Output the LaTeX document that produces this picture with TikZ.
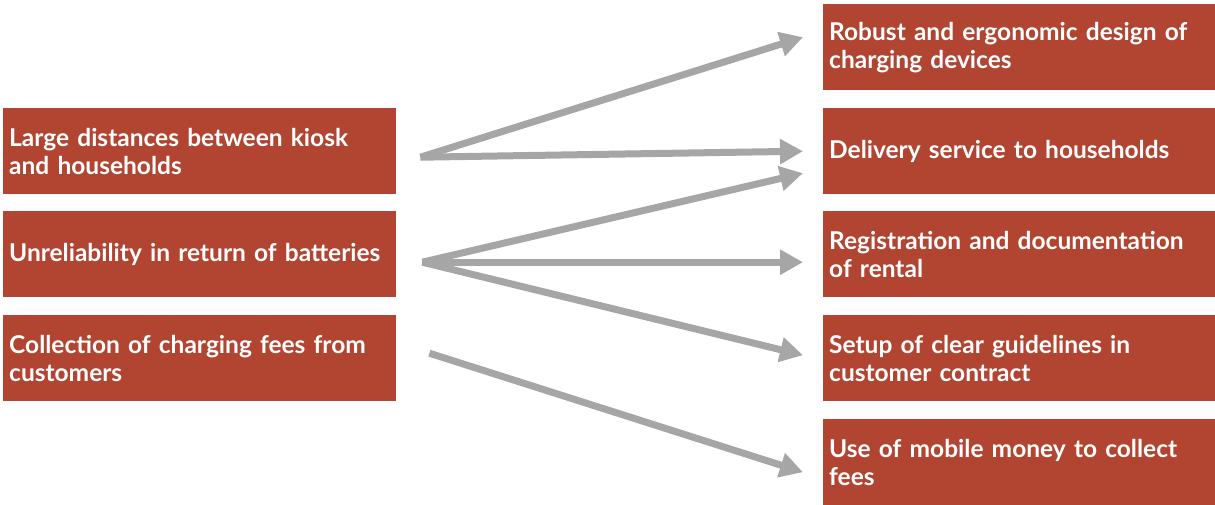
\documentclass[tikz,border=0pt]{standalone}
\usepackage{fontspec}
\setmainfont{Lato}
\usetikzlibrary{arrows.meta,calc}
\definecolor{boxred}{RGB}{177,69,50}
\definecolor{arrgray}{RGB}{166,166,166}
\begin{document}
\begin{tikzpicture}[x=1pt,y=-1pt,
  card/.style={fill=boxred,text=white,font=\bfseries\fontsize{24.5}{28}\selectfont,
    minimum width=393pt,minimum height=86pt,text width=381pt,align=left,
    inner sep=6pt,anchor=north west},
  link/.style={draw=arrgray,line width=7pt,
    -{Triangle[width=24pt,length=23pt]}}]
\useasboundingbox (0,0) rectangle (1215,504);
% causes
\node[card] (l1) at (3,108) {Large distances between kiosk\\and households};
\node[card] (l2) at (3,211) {Unreliability in return of batteries};
\node[card] (l3) at (3,315) {Collection of charging fees from\\customers};
% measures
\node[card] (r1) at (823,4) {Robust and ergonomic design of\\charging devices};
\node[card] (r2) at (823,108) {Delivery service to households};
\node[card] (r3) at (823,211) {Registration and documentation\\of rental};
\node[card] (r4) at (823,315) {Setup of clear guidelines in\\customer contract};
\node[card] (r5) at (823,419) {Use of mobile money to collect\\fees};
% arrow end points
\coordinate (s1) at ($(l1.east)+(24,6)$);
\coordinate (s2) at ($(l2.east)+(26,8)$);
\coordinate (s3) at ($(l3.east)+(33,-5)$);
\coordinate (t1) at ($(r1.west)+(-20,-10)$);
\coordinate (t2a) at ($(r2.west)+(-20,0)$);
\coordinate (t2b) at ($(r2.west)+(-20,22)$);
\coordinate (t3) at ($(r3.west)+(-20,8)$);
\coordinate (t4) at ($(r4.west)+(-20,-3)$);
\coordinate (t5) at ($(r5.west)+(-20,10)$);
% connectors
\draw[link] (s1) -- (t1);
\draw[link] (s1) -- (t2a);
\draw[link] (s2) -- (t2b);
\draw[link] (s2) -- (t3);
\draw[link] (s2) -- (t4);
\draw[link] (s3) -- (t5);
\end{tikzpicture}
\end{document}
